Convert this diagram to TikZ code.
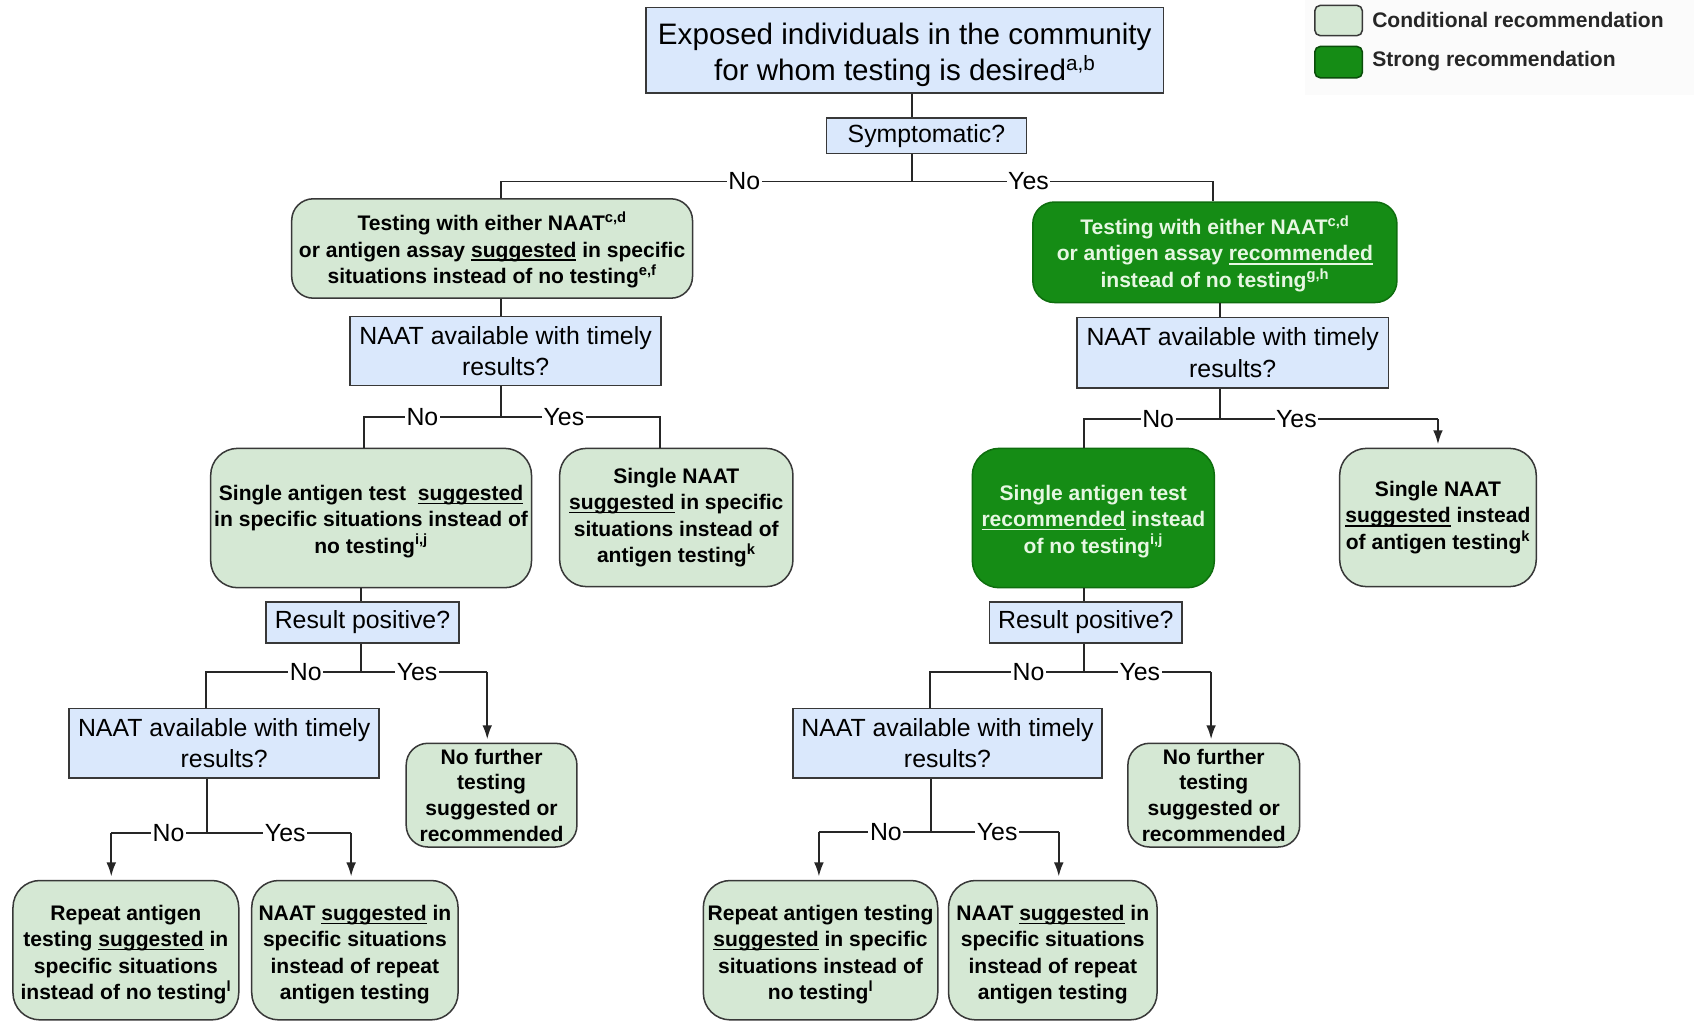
\documentclass[tikz,border=0pt]{standalone}
\usepackage{fontspec}
\setmainfont{Liberation Sans}
\usetikzlibrary{arrows.meta}
\definecolor{qblue}{HTML}{DAE8FC}
\definecolor{lgreen}{HTML}{D5E8D4}
\definecolor{dgreen}{HTML}{158C15}
\definecolor{dgborder}{HTML}{0E6E0E}
\definecolor{edgec}{HTML}{383838}
\definecolor{paletext}{HTML}{E6F7E2}
\newsavebox\ulbox
\newcommand{\uln}[1]{\sbox\ulbox{#1}\rlap{\rule[-3.5pt]{\wd\ulbox}{1.3pt}}\usebox\ulbox}
\newcommand{\sps}[1]{\smash{\textsuperscript{#1}}}
\newcommand{\fstrut}{\rule{0pt}{20pt}}
\begin{document}
\begin{tikzpicture}[x=1pt,y=-1pt,
  qbox/.style={draw=edgec, line width=1.4pt, fill=qblue, align=center, inner sep=0pt,
    font=\fontsize{23}{29}\selectfont},
  cbox/.style={draw=edgec, line width=1.4pt, fill=lgreen, rounded corners=20pt, align=center, inner sep=0pt,
    font=\fontsize{19.5}{24.5}\selectfont\bfseries},
  sbox/.style={draw=dgborder, line width=1.4pt, fill=dgreen, text=paletext, rounded corners=20pt, align=center, inner sep=0pt,
    font=\fontsize{19.5}{24.5}\selectfont\bfseries},
  conn/.style={line width=1.8pt, draw=black!85},
  arr/.style={conn, -{Latex[length=13pt,width=9pt]}, shorten >=3pt},
  lab/.style={fill=white, inner sep=1.5pt, font=\fontsize{23}{23}\selectfont},
  legtext/.style={anchor=west, inner sep=0pt, text=black!85, font=\fontsize{19.5}{24}\selectfont\bfseries}
]
\useasboundingbox (0,0) rectangle (1568,946);
\fill[white] (0,0) rectangle (1568,946);
\fill[black!1.5] (1208,0) rectangle (1568,88);

% legend
\node[draw=edgec, line width=1.4pt, fill=lgreen, rounded corners=5pt, minimum width=44pt, minimum height=28pt, inner sep=0pt] (legc) at (1239,19) {};
\node[draw=dgborder!70!black, line width=1.4pt, fill=dgreen, rounded corners=5pt, minimum width=44pt, minimum height=29pt, inner sep=0pt] (legs) at (1239,57.5) {};
\node[legtext] (legct) at (1270,18.5) {Conditional recommendation};
\node[legtext] (legst) at (1270,57) {Strong recommendation};

% nodes
\node[qbox, minimum width=479pt, minimum height=79pt, font=\fontsize{27.4}{33}\selectfont] (top) at (837.5,46.5)
  {\rule{0pt}{28pt}Exposed individuals in the community\\for whom testing is desired\sps{a,b}};
\node[qbox, minimum width=185pt, minimum height=33pt] (sym) at (857.5,125.5) {Symptomatic?};

\node[cbox, minimum width=371pt, minimum height=92pt] (L1) at (455.5,230)
  {\fstrut Testing with either NAAT\sps{c,d}\\or antigen assay \uln{suggested} in specific\\situations instead of no testing\sps{e,f}};
\node[sbox, minimum width=337pt, minimum height=93pt] (R1) at (1124.5,233.5)
  {\fstrut Testing with either NAAT\sps{c,d}\\or antigen assay \uln{recommended}\\instead of no testing\sps{g,h}};

\node[qbox, minimum width=288pt, minimum height=64pt] (LN1) at (468,325) {NAAT available with timely\\results?};
\node[qbox, minimum width=288pt, minimum height=65pt] (RN1) at (1141,326.5) {NAAT available with timely\\results?};

\node[cbox, rounded corners=25pt, minimum width=297pt, minimum height=129pt] (L2a) at (343.5,479.5)
  {\fstrut Single antigen test\ \ \uln{suggested}\\in specific situations instead of\\no testing\sps{i,j}};
\node[cbox, rounded corners=25pt, minimum width=216pt, minimum height=128pt] (L2b) at (626,479)
  {Single NAAT\\\uln{suggested} in specific\\situations instead of\\antigen testing\sps{k}};
\node[sbox, rounded corners=25pt, minimum width=224pt, minimum height=129pt] (R2a) at (1012,479.5)
  {\fstrut Single antigen test\\\uln{recommended} instead\\of no testing\sps{i,j}};
\node[cbox, rounded corners=25pt, minimum width=182pt, minimum height=128pt] (R2b) at (1331,479)
  {Single NAAT\\\uln{suggested} instead\\of antigen testing\sps{k}};

\node[qbox, minimum width=179pt, minimum height=38pt] (LR) at (335.5,576) {Result positive?};
\node[qbox, minimum width=178pt, minimum height=38pt] (RR) at (1005,576) {Result positive?};

\node[qbox, minimum width=287pt, minimum height=64pt] (LN2) at (207.5,688) {NAAT available with timely\\results?};
\node[cbox, minimum width=158pt, minimum height=96pt, font=\fontsize{19.5}{23.7}\selectfont\bfseries] (NFL) at (455,736)
  {No further\\testing\\suggested or\\recommended};
\node[qbox, minimum width=286pt, minimum height=64pt] (RN2) at (877,688) {NAAT available with timely\\results?};
\node[cbox, minimum width=159pt, minimum height=96pt, font=\fontsize{19.5}{23.7}\selectfont\bfseries] (NFR) at (1123.5,736)
  {No further\\testing\\suggested or\\recommended};

\node[cbox, rounded corners=25pt, minimum width=209pt, minimum height=129pt] (BL1) at (116.5,879.5)
  {\rule{0pt}{22pt}Repeat antigen\\testing \uln{suggested} in\\specific situations\\instead of no testing\sps{l}};
\node[cbox, rounded corners=25pt, minimum width=191pt, minimum height=129pt] (BL2) at (328.5,879.5)
  {\rule{0pt}{22pt}NAAT \uln{suggested} in\\specific situations\\instead of repeat\\antigen testing};
\node[cbox, rounded corners=25pt, minimum width=217pt, minimum height=129pt] (BR1) at (759.5,879.5)
  {\rule{0pt}{22pt}Repeat antigen testing\\\uln{suggested} in specific\\situations instead of\\no testing\sps{l}};
\node[cbox, rounded corners=25pt, minimum width=193pt, minimum height=129pt] (BR2) at (974.5,879.5)
  {\rule{0pt}{22pt}NAAT \uln{suggested} in\\specific situations\\instead of repeat\\antigen testing};

% connectors: top
\coordinate (j0) at (844,168);
\coordinate (j0l) at (464,168);
\coordinate (j0r) at (1123,168);
\draw[conn] (top.south -| j0) -- (sym.north -| j0);
\draw[conn] (sym.south -| j0) -- (j0);
\draw[conn] (L1.north -| j0l) -- (j0l) -- (j0r) -- (R1.north -| j0r);
\node[lab] (lno0) at (689,168) {No};
\node[lab] (lyes0) at (952,168) {Yes};

% left level 2
\coordinate (c1) at (464,386);
\coordinate (c1l) at (337,386);
\coordinate (c1r) at (611,386);
\draw[conn] (L1.south -| c1) -- (LN1.north -| c1);
\draw[conn] (LN1.south -| c1) -- (c1);
\draw[conn] (L2a.north -| c1l) -- (c1l) -- (c1r) -- (L2b.north -| c1r);
\node[lab] (lno1) at (391,386) {No};
\node[lab] (lyes1) at (522,386) {Yes};

% right level 2
\coordinate (c2) at (1129,388);
\coordinate (c2l) at (1003,388);
\coordinate (c2r) at (1331,388);
\draw[conn] (R1.south -| c2) -- (RN1.north -| c2);
\draw[conn] (RN1.south -| c2) -- (c2);
\draw[conn] (R2a.north -| c2l) -- (c2l) -- (c2r);
\draw[arr] (c2r) -- (R2b.north -| c2r);
\node[lab] (rno1) at (1072,388) {No};
\node[lab] (ryes1) at (1200,388) {Yes};

% left result
\coordinate (c3) at (334,622);
\coordinate (c3l) at (191,622);
\coordinate (c3r) at (451,622);
\draw[conn] (L2a.south -| c3) -- (LR.north -| c3);
\draw[conn] (LR.south -| c3) -- (c3);
\draw[conn] (LN2.north -| c3l) -- (c3l) -- (c3r);
\draw[arr] (c3r) -- (NFL.north -| c3r);
\node[lab] (lno2) at (283,622) {No};
\node[lab] (lyes2) at (386,622) {Yes};

% right result
\coordinate (c4) at (1003,622);
\coordinate (c4l) at (861,622);
\coordinate (c4r) at (1121,622);
\draw[conn] (R2a.south -| c4) -- (RR.north -| c4);
\draw[conn] (RR.south -| c4) -- (c4);
\draw[conn] (RN2.north -| c4l) -- (c4l) -- (c4r);
\draw[arr] (c4r) -- (NFR.north -| c4r);
\node[lab] (rno2) at (952,622) {No};
\node[lab] (ryes2) at (1055,622) {Yes};

% bottom left
\coordinate (c5) at (192,771);
\coordinate (c5l) at (103,771);
\coordinate (c5r) at (325,771);
\draw[conn] (LN2.south -| c5) -- (c5);
\draw[conn] (c5l) -- (c5r);
\draw[arr] (c5l) -- (BL1.north -| c5l);
\draw[arr] (c5r) -- (BL2.north -| c5r);
\node[lab] (lno3) at (156,771) {No};
\node[lab] (lyes3) at (264,771) {Yes};

% bottom right
\coordinate (c6) at (862,770);
\coordinate (c6l) at (758,770);
\coordinate (c6r) at (980,770);
\draw[conn] (RN2.south -| c6) -- (c6);
\draw[conn] (c6l) -- (c6r);
\draw[arr] (c6l) -- (BR1.north -| c6l);
\draw[arr] (c6r) -- (BR2.north -| c6r);
\node[lab] (rno3) at (820,770) {No};
\node[lab] (ryes3) at (923,770) {Yes};
\end{tikzpicture}
\end{document}
